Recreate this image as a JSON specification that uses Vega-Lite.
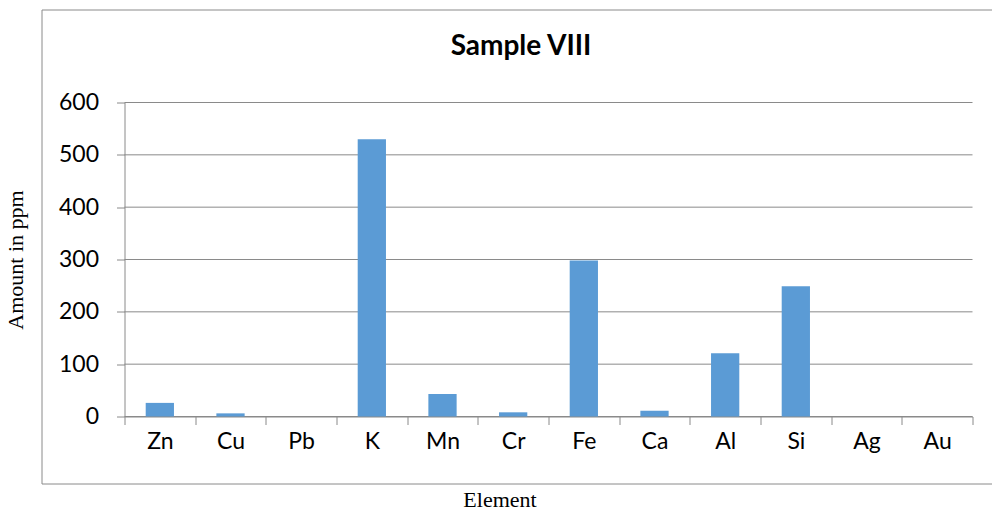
{
  "$schema": "https://vega.github.io/schema/vega-lite/v6.json",
  "autosize": {"type": "none"},
  "width": 951,
  "height": 474,
  "padding": {"left": 41.5, "top": 9.5, "right": 0, "bottom": 28.5},
  "background": "white",
  "title": {
    "text": "Sample VIII",
    "font": "Lato",
    "fontSize": 28,
    "fontWeight": "bold",
    "color": "black",
    "anchor": "middle",
    "frame": "group",
    "baseline": "alphabetic",
    "offset": 0,
    "dy": 73.5,
    "dx": 4
  },
  "config": {
    "view": {"stroke": "#8a8a8a", "strokeWidth": 1},
    "axis": {
      "domainColor": "#8a8a8a",
      "tickColor": "#8a8a8a",
      "labelFont": "Lato",
      "labelFontSize": 23,
      "labelColor": "black",
      "titleFont": "Liberation Serif",
      "titleFontSize": 22,
      "titleFontWeight": "normal",
      "titleColor": "black"
    }
  },
  "datasets": {
    "elements": [
      {"element": "Zn", "ppm": 26},
      {"element": "Cu", "ppm": 6},
      {"element": "Pb", "ppm": 0},
      {"element": "K", "ppm": 530},
      {"element": "Mn", "ppm": 43},
      {"element": "Cr", "ppm": 8},
      {"element": "Fe", "ppm": 298},
      {"element": "Ca", "ppm": 11},
      {"element": "Al", "ppm": 121},
      {"element": "Si", "ppm": 249},
      {"element": "Ag", "ppm": 0},
      {"element": "Au", "ppm": 0}
    ],
    "gridlines": [
      {"ppm": 0}, {"ppm": 100}, {"ppm": 200}, {"ppm": 300}, {"ppm": 400}, {"ppm": 500}, {"ppm": 600}
    ]
  },
  "encoding": {
    "y": {
      "field": "ppm",
      "type": "quantitative",
      "scale": {"domain": [0, 600], "range": [407, 93], "nice": false, "zero": true},
      "axis": {
        "orient": "left",
        "offset": -83,
        "values": [0, 100, 200, 300, 400, 500, 600],
        "grid": false,
        "tickSize": 8,
        "labelPadding": 18,
        "title": "Amount in ppm",
        "titleAngle": -90,
        "titleX": -102,
        "titleY": 250,
        "titleAlign": "center",
        "titleBaseline": "alphabetic"
      }
    }
  },
  "layer": [
    {
      "data": {"name": "gridlines"},
      "mark": {"type": "rule", "color": "#8a8a8a", "strokeWidth": 1},
      "encoding": {
        "x": {"datum": "Zn", "type": "nominal", "bandPosition": 0},
        "x2": {"datum": "Au", "bandPosition": 1}
      }
    },
    {
      "data": {"name": "elements"},
      "mark": {"type": "bar", "color": "#5B9BD5", "width": {"band": 0.4}},
      "encoding": {
        "x": {
          "field": "element",
          "type": "nominal",
          "sort": null,
          "scale": {
            "type": "band",
            "domain": ["Zn", "Cu", "Pb", "K", "Mn", "Cr", "Fe", "Ca", "Al", "Si", "Ag", "Au"],
            "range": [83, 931],
            "paddingInner": 0,
            "paddingOuter": 0
          },
          "axis": {
            "orient": "bottom",
            "offset": -67,
            "tickBand": "extent",
            "tickSize": 8,
            "labelPadding": 16.7,
            "labelAngle": 0,
            "labelAlign": "center",
            "grid": false,
            "title": "Element",
            "titleX": 458,
            "titleY": 90,
            "titleAlign": "center",
            "titleBaseline": "alphabetic"
          }
        }
      }
    }
  ]
}
